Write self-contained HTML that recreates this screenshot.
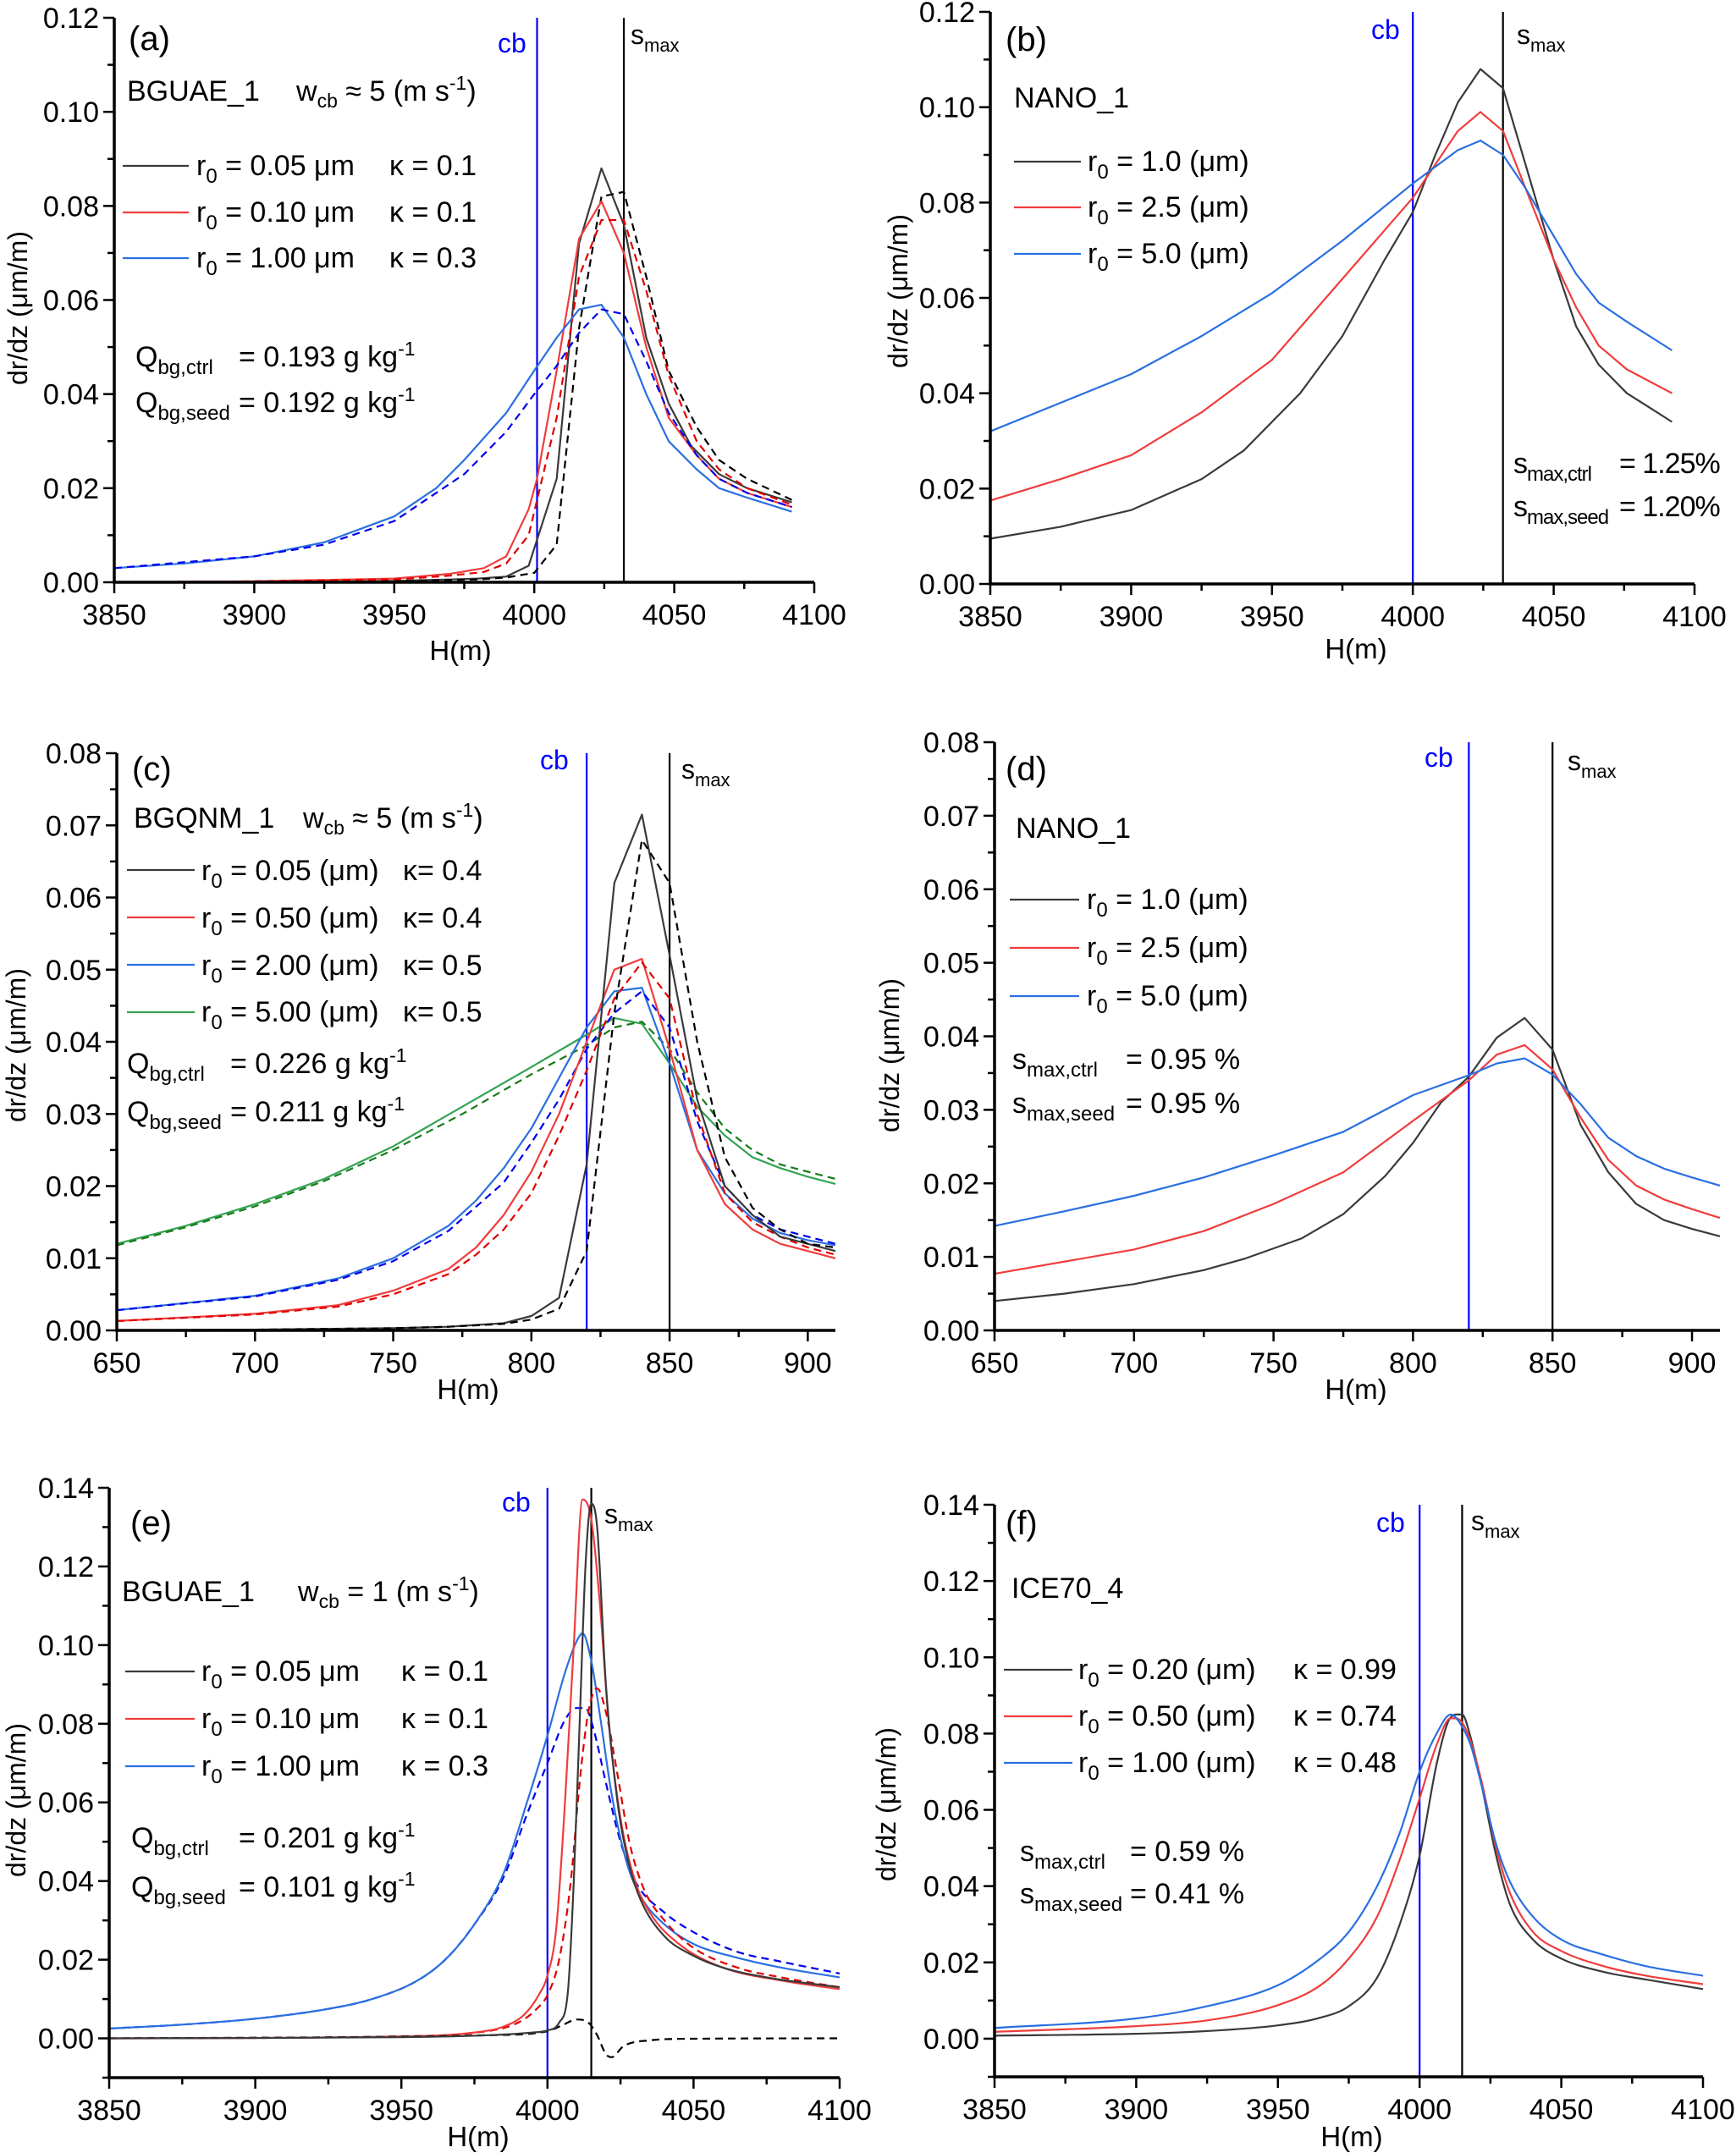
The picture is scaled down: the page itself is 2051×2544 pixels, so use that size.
<!DOCTYPE html>
<html><head><meta charset="utf-8"><style>
body{margin:0;background:#fff}
svg{display:block;font-family:"Liberation Sans",Arial,sans-serif}
text{fill:#000}
</style></head><body>
<svg id="fig" width="2051" height="2544" viewBox="0 0 2051 2544" xmlns="http://www.w3.org/2000/svg">
<g id="marks"></g>
<g font-size="34">
<!-- panel a -->
<text x="152" y="59" font-size="40">(a)</text>
<text x="588" y="62" style="fill:#0000ff" font-size="32">cb</text>
<text x="745" y="52" font-size="32">s<tspan dy="9" font-size="22">max</tspan></text>
<text x="150" y="119">BGUAE_1</text>
<text x="350" y="119">w<tspan dy="8" font-size="23">cb</tspan><tspan dy="-8"> ≈ 5 (m s</tspan><tspan dy="-13" font-size="23">-1</tspan><tspan dy="13">)</tspan></text>
<text x="232" y="207">r<tspan dy="9" font-size="24">0</tspan><tspan dy="-9"> = 0.05 μm</tspan><tspan x="460">κ = 0.1</tspan></text>
<text x="232" y="262">r<tspan dy="9" font-size="24">0</tspan><tspan dy="-9"> = 0.10 μm</tspan><tspan x="460">κ = 0.1</tspan></text>
<text x="232" y="316">r<tspan dy="9" font-size="24">0</tspan><tspan dy="-9"> = 1.00 μm</tspan><tspan x="460">κ = 0.3</tspan></text>
<text x="160" y="433">Q<tspan dy="9" font-size="24">bg,ctrl</tspan><tspan x="282" dy="-9">= 0.193 g kg</tspan><tspan dy="-13" font-size="23">-1</tspan></text>
<text x="160" y="487">Q<tspan dy="9" font-size="24">bg,seed</tspan><tspan x="282" dy="-9">= 0.192 g kg</tspan><tspan dy="-13" font-size="23">-1</tspan></text>
<!-- panel b -->
<text x="1188" y="60" font-size="40">(b)</text>
<text x="1620" y="46" style="fill:#0000ff" font-size="32">cb</text>
<text x="1792" y="52" font-size="32">s<tspan dy="9" font-size="22">max</tspan></text>
<text x="1198" y="127">NANO_1</text>
<text x="1285" y="202">r<tspan dy="9" font-size="24">0</tspan><tspan dy="-9"> = 1.0 (μm)</tspan></text>
<text x="1285" y="256">r<tspan dy="9" font-size="24">0</tspan><tspan dy="-9"> = 2.5 (μm)</tspan></text>
<text x="1285" y="311">r<tspan dy="9" font-size="24">0</tspan><tspan dy="-9"> = 5.0 (μm)</tspan></text>
<text x="1788" y="559" letter-spacing="-1">s<tspan dy="9" font-size="24">max,ctrl</tspan><tspan x="1913" dy="-9">= 1.25%</tspan></text>
<text x="1788" y="610" letter-spacing="-1">s<tspan dy="9" font-size="24">max,seed</tspan><tspan x="1913" dy="-9">= 1.20%</tspan></text>
<!-- panel c -->
<text x="156" y="922" font-size="40">(c)</text>
<text x="638" y="909" style="fill:#0000ff" font-size="32">cb</text>
<text x="805" y="920" font-size="32">s<tspan dy="9" font-size="22">max</tspan></text>
<text x="158" y="978">BGQNM_1</text>
<text x="358" y="978">w<tspan dy="8" font-size="23">cb</tspan><tspan dy="-8"> ≈ 5 (m s</tspan><tspan dy="-13" font-size="23">-1</tspan><tspan dy="13">)</tspan></text>
<text x="238" y="1040">r<tspan dy="9" font-size="24">0</tspan><tspan dy="-9"> = 0.05 (μm)</tspan><tspan x="476">κ= 0.4</tspan></text>
<text x="238" y="1096">r<tspan dy="9" font-size="24">0</tspan><tspan dy="-9"> = 0.50 (μm)</tspan><tspan x="476">κ= 0.4</tspan></text>
<text x="238" y="1152">r<tspan dy="9" font-size="24">0</tspan><tspan dy="-9"> = 2.00 (μm)</tspan><tspan x="476">κ= 0.5</tspan></text>
<text x="238" y="1207">r<tspan dy="9" font-size="24">0</tspan><tspan dy="-9"> = 5.00 (μm)</tspan><tspan x="476">κ= 0.5</tspan></text>
<text x="150" y="1268">Q<tspan dy="9" font-size="24">bg,ctrl</tspan><tspan x="272" dy="-9">= 0.226 g kg</tspan><tspan dy="-13" font-size="23">-1</tspan></text>
<text x="150" y="1325">Q<tspan dy="9" font-size="24">bg,seed</tspan><tspan x="272" dy="-9">= 0.211 g kg</tspan><tspan dy="-13" font-size="23">-1</tspan></text>
<!-- panel d -->
<text x="1188" y="922" font-size="40">(d)</text>
<text x="1683" y="906" style="fill:#0000ff" font-size="32">cb</text>
<text x="1852" y="910" font-size="32">s<tspan dy="9" font-size="22">max</tspan></text>
<text x="1200" y="990">NANO_1</text>
<text x="1284" y="1074">r<tspan dy="9" font-size="24">0</tspan><tspan dy="-9"> = 1.0 (μm)</tspan></text>
<text x="1284" y="1131">r<tspan dy="9" font-size="24">0</tspan><tspan dy="-9"> = 2.5 (μm)</tspan></text>
<text x="1284" y="1188">r<tspan dy="9" font-size="24">0</tspan><tspan dy="-9"> = 5.0 (μm)</tspan></text>
<text x="1196" y="1263">s<tspan dy="9" font-size="24">max,ctrl</tspan><tspan x="1330" dy="-9">= 0.95 %</tspan></text>
<text x="1196" y="1315">s<tspan dy="9" font-size="24">max,seed</tspan><tspan x="1330" dy="-9">= 0.95 %</tspan></text>
<!-- panel e -->
<text x="154" y="1813" font-size="40">(e)</text>
<text x="593" y="1786" style="fill:#0000ff" font-size="32">cb</text>
<text x="714" y="1800" font-size="32">s<tspan dy="9" font-size="22">max</tspan></text>
<text x="144" y="1892">BGUAE_1</text>
<text x="352" y="1892">w<tspan dy="8" font-size="23">cb</tspan><tspan dy="-8"> = 1 (m s</tspan><tspan dy="-13" font-size="23">-1</tspan><tspan dy="13">)</tspan></text>
<text x="238" y="1986">r<tspan dy="9" font-size="24">0</tspan><tspan dy="-9"> = 0.05 μm</tspan><tspan x="474">κ = 0.1</tspan></text>
<text x="238" y="2042">r<tspan dy="9" font-size="24">0</tspan><tspan dy="-9"> = 0.10 μm</tspan><tspan x="474">κ = 0.1</tspan></text>
<text x="238" y="2098">r<tspan dy="9" font-size="24">0</tspan><tspan dy="-9"> = 1.00 μm</tspan><tspan x="474">κ = 0.3</tspan></text>
<text x="155" y="2183">Q<tspan dy="9" font-size="24">bg,ctrl</tspan><tspan x="282" dy="-9">= 0.201 g kg</tspan><tspan dy="-13" font-size="23">-1</tspan></text>
<text x="155" y="2241">Q<tspan dy="9" font-size="24">bg,seed</tspan><tspan x="282" dy="-9">= 0.101 g kg</tspan><tspan dy="-13" font-size="23">-1</tspan></text>
<!-- panel f -->
<text x="1188" y="1813" font-size="40">(f)</text>
<text x="1626" y="1810" style="fill:#0000ff" font-size="32">cb</text>
<text x="1738" y="1808" font-size="32">s<tspan dy="9" font-size="22">max</tspan></text>
<text x="1195" y="1888">ICE70_4</text>
<text x="1274" y="1984">r<tspan dy="9" font-size="24">0</tspan><tspan dy="-9"> = 0.20 (μm)</tspan><tspan x="1528">κ = 0.99</tspan></text>
<text x="1274" y="2039">r<tspan dy="9" font-size="24">0</tspan><tspan dy="-9"> = 0.50 (μm)</tspan><tspan x="1528">κ = 0.74</tspan></text>
<text x="1274" y="2094">r<tspan dy="9" font-size="24">0</tspan><tspan dy="-9"> = 1.00 (μm)</tspan><tspan x="1528">κ = 0.48</tspan></text>
<text x="1205" y="2199">s<tspan dy="9" font-size="24">max,ctrl</tspan><tspan x="1335" dy="-9">= 0.59 %</tspan></text>
<text x="1205" y="2249">s<tspan dy="9" font-size="24">max,seed</tspan><tspan x="1335" dy="-9">= 0.41 %</tspan></text>
<!-- axis titles -->
<text transform="translate(32,364) rotate(-90)" text-anchor="middle" font-size="32">dr/dz (μm/m)</text>
<text transform="translate(1072,344) rotate(-90)" text-anchor="middle" font-size="32">dr/dz (μm/m)</text>
<text transform="translate(30,1235) rotate(-90)" text-anchor="middle" font-size="32">dr/dz (μm/m)</text>
<text transform="translate(1062,1247) rotate(-90)" text-anchor="middle" font-size="32">dr/dz (μm/m)</text>
<text transform="translate(30,2127) rotate(-90)" text-anchor="middle" font-size="32">dr/dz (μm/m)</text>
<text transform="translate(1058,2132) rotate(-90)" text-anchor="middle" font-size="32">dr/dz (μm/m)</text>
<text x="544" y="780" text-anchor="middle" font-size="33">H(m)</text>
<text x="1602" y="778" text-anchor="middle" font-size="33">H(m)</text>
<text x="553" y="1653" text-anchor="middle" font-size="33">H(m)</text>
<text x="1602" y="1653" text-anchor="middle" font-size="33">H(m)</text>
<text x="565" y="2536" text-anchor="middle" font-size="33">H(m)</text>
<text x="1597" y="2536" text-anchor="middle" font-size="33">H(m)</text>
</g>
</svg>
<script>
// ---------- panel (a) data ----------
const aKx=[3850,3900,3950,3970,3980,3990,3998,4008,4016,4024,4032,4040,4048,4056,4066,4076,4092];
const aKy=[0,0,0.0003,0.0006,0.0008,0.0012,0.0035,0.022,0.072,0.088,0.076,0.052,0.038,0.029,0.023,0.020,0.017];
const aKdx=[3850,3900,3950,3980,3990,4000,4008,4016,4024,4032,4040,4048,4058,4066,4076,4092];
const aKdy=[0,0,0.0002,0.0006,0.001,0.002,0.008,0.054,0.082,0.083,0.065,0.045,0.033,0.026,0.022,0.0175];
const aRx=[3850,3900,3950,3970,3982,3990,3998,4001,4008,4016,4024,4032,4040,4048,4058,4066,4076,4092];
const aRy=[0,0.0002,0.0008,0.0018,0.003,0.0055,0.0155,0.022,0.045,0.073,0.081,0.070,0.050,0.035,0.027,0.022,0.019,0.016];
const aRdx=[3850,3900,3950,3970,3982,3990,3998,4008,4016,4024,4032,4040,4048,4058,4066,4076,4092];
const aRdy=[0,0.0002,0.0006,0.0014,0.0022,0.004,0.010,0.035,0.065,0.077,0.077,0.062,0.044,0.030,0.024,0.020,0.0165];
const aBx=[3850,3875,3900,3925,3950,3965,3975,3990,4000,4008,4016,4024,4032,4040,4048,4058,4066,4076,4092];
const aBy=[0.003,0.004,0.0055,0.0085,0.014,0.020,0.026,0.036,0.045,0.052,0.058,0.059,0.052,0.040,0.030,0.024,0.020,0.018,0.015];
const aBdx=[3850,3900,3925,3950,3975,3990,4000,4008,4016,4024,4032,4040,4048,4058,4066,4076,4092];
const aBdy=[0.003,0.0055,0.008,0.013,0.023,0.032,0.040,0.046,0.053,0.058,0.057,0.047,0.036,0.027,0.022,0.019,0.016];
// ---------- panel (b) data ----------
const bKx=[3850,3875,3900,3925,3940,3960,3975,3990,4000,4008,4016,4024,4032,4040,4050,4058,4066,4076,4084,4092];
const bKy=[0.0095,0.012,0.0155,0.022,0.028,0.040,0.052,0.068,0.078,0.090,0.101,0.108,0.104,0.088,0.068,0.054,0.046,0.040,0.037,0.034];
const bRx=[3850,3875,3900,3925,3950,3975,4000,4008,4016,4024,4032,4040,4050,4058,4066,4076,4092];
const bRy=[0.0175,0.022,0.027,0.036,0.047,0.064,0.081,0.088,0.095,0.099,0.095,0.083,0.068,0.058,0.050,0.045,0.040];
const bBx=[3850,3875,3900,3925,3950,3975,4000,4016,4024,4032,4040,4050,4058,4066,4076,4092];
const bBy=[0.032,0.038,0.044,0.052,0.061,0.072,0.084,0.091,0.093,0.090,0.083,0.073,0.065,0.059,0.055,0.049];
// ---------- panel (c) data ----------
const cKx=[650,700,750,770,790,800,810,820,830,840,850,860,870,880,890,900,910];
const cKy=[0,0.0001,0.0003,0.0005,0.001,0.002,0.0045,0.023,0.062,0.0715,0.052,0.032,0.020,0.016,0.013,0.012,0.011];
const cKdx=[650,700,750,770,790,800,810,820,830,840,850,860,870,880,890,900,910];
const cKdy=[0,0.0001,0.0003,0.0005,0.0009,0.0015,0.003,0.011,0.044,0.068,0.062,0.040,0.024,0.017,0.014,0.012,0.0115];
const cRx=[650,700,730,750,770,780,790,800,810,820,830,840,850,860,870,880,890,900,910];
const cRy=[0.0013,0.0023,0.0035,0.0055,0.0085,0.0115,0.016,0.022,0.030,0.040,0.050,0.0515,0.039,0.025,0.0175,0.014,0.012,0.011,0.010];
const cRdx=[650,700,730,750,770,780,790,800,810,820,830,840,850,860,870,880,890,900,910];
const cRdy=[0.0013,0.0022,0.0033,0.005,0.0078,0.0105,0.014,0.019,0.027,0.036,0.046,0.051,0.046,0.030,0.019,0.015,0.013,0.0115,0.0105];
const cBx=[650,700,730,750,770,780,790,800,810,820,830,840,850,860,870,880,890,900,910];
const cBy=[0.0028,0.0048,0.0072,0.010,0.0145,0.018,0.0225,0.028,0.035,0.042,0.047,0.0475,0.037,0.025,0.019,0.0155,0.0135,0.0125,0.0118];
const cBdx=[650,700,730,750,770,790,800,810,820,830,840,850,860,870,880,890,900,910];
const cBdy=[0.0028,0.0047,0.007,0.0096,0.0138,0.0205,0.026,0.032,0.039,0.044,0.047,0.042,0.029,0.020,0.016,0.014,0.013,0.012];
const cGx=[650,675,700,725,750,775,800,820,830,840,850,860,870,880,890,900,910];
const cGy=[0.012,0.0145,0.0175,0.021,0.0255,0.031,0.0365,0.041,0.0433,0.0425,0.037,0.031,0.027,0.024,0.0225,0.0213,0.0203];
const cGdx=[650,675,700,725,750,775,800,820,830,840,850,860,870,880,890,900,910];
const cGdy=[0.0118,0.0143,0.0172,0.0207,0.025,0.030,0.0355,0.0395,0.042,0.0428,0.039,0.033,0.028,0.025,0.023,0.022,0.021];
// ---------- panel (d) data ----------
const dKx=[650,675,700,725,740,760,775,790,800,810,820,830,840,850,860,870,880,890,900,910];
const dKy=[0.004,0.005,0.0063,0.0082,0.0098,0.0125,0.0158,0.021,0.0255,0.031,0.0345,0.0398,0.0425,0.0382,0.028,0.0215,0.0172,0.015,0.0138,0.0128];
const dRx=[650,700,725,750,775,800,820,830,840,850,860,870,880,890,900,910];
const dRy=[0.0077,0.011,0.0135,0.0172,0.0215,0.0285,0.034,0.0375,0.0388,0.0355,0.029,0.0232,0.0197,0.0178,0.0165,0.0153];
const dBx=[650,675,700,725,750,775,790,800,820,830,840,850,860,870,880,890,900,910];
const dBy=[0.0142,0.0162,0.0183,0.0208,0.0238,0.027,0.030,0.032,0.0347,0.0363,0.037,0.0348,0.0308,0.0262,0.0237,0.022,0.0208,0.0197];
// ---------- panel (e) data ----------
const eKx=[3850,3950,3980,3995,4000,4004,4007,4009,4011,4013,4015,4017,4020,4024,4028,4032,4040,4050,4060,4075,4100];
const eKy=[0,0.0003,0.0008,0.0015,0.002,0.004,0.012,0.04,0.08,0.12,0.136,0.13,0.09,0.06,0.044,0.035,0.026,0.021,0.018,0.0155,0.013];
const eKdx=[3850,3980,4000,4005,4010,4014,4017,4020,4022,4026,4035,4050,4100];
const eKdy=[0,0.0008,0.0018,0.0033,0.0048,0.004,0.0008,-0.004,-0.0048,-0.002,-0.0005,-0.0001,0];
const eRx=[3850,3950,3975,3985,3992,3997,4000,4003,4006,4009,4012,4015,4018,4021,4025,4030,4035,4045,4060,4080,4100];
const eRy=[0,0.0005,0.0015,0.003,0.006,0.011,0.016,0.028,0.06,0.10,0.137,0.132,0.11,0.08,0.056,0.040,0.032,0.024,0.018,0.0147,0.0125];
const eRdx=[3850,3950,3975,3990,3997,4000,4004,4008,4011,4014,4017,4020,4024,4028,4033,4040,4050,4065,4080,4100];
const eRdy=[0,0.0005,0.0014,0.004,0.008,0.011,0.02,0.04,0.065,0.083,0.089,0.083,0.067,0.050,0.038,0.030,0.023,0.018,0.0155,0.013];
const eBx=[3850,3875,3900,3925,3940,3955,3965,3975,3985,3993,4000,4006,4010,4012,4015,4018,4022,4027,4032,4040,4050,4065,4080,4100];
const eBy=[0.0025,0.0035,0.005,0.0075,0.010,0.0145,0.020,0.029,0.042,0.060,0.077,0.093,0.101,0.103,0.096,0.082,0.062,0.045,0.036,0.029,0.024,0.0205,0.018,0.0155];
const eBdx=[3850,3875,3900,3925,3940,3955,3965,3975,3985,3993,4000,4006,4010,4013,4016,4020,4025,4030,4040,4050,4065,4080,4100];
const eBdy=[0.0025,0.0035,0.005,0.0075,0.010,0.0145,0.020,0.029,0.041,0.057,0.070,0.081,0.084,0.084,0.078,0.065,0.050,0.040,0.032,0.027,0.022,0.0195,0.0165];
// ---------- panel (f) data ----------
const fKx=[3850,3900,3925,3950,3965,3975,3985,3993,4000,4006,4010,4013,4015,4018,4022,4027,4032,4040,4050,4065,4080,4100];
const fKy=[0.0008,0.0013,0.002,0.0035,0.0055,0.0085,0.016,0.030,0.048,0.072,0.083,0.085,0.085,0.079,0.066,0.048,0.035,0.026,0.021,0.0175,0.0155,0.013];
const fRx=[3850,3900,3925,3950,3965,3975,3985,3993,4000,4006,4011,4013,4017,4022,4027,4032,4040,4050,4065,4080,4100];
const fRy=[0.0018,0.0033,0.0048,0.0088,0.014,0.021,0.032,0.047,0.063,0.077,0.084,0.084,0.080,0.067,0.050,0.038,0.028,0.023,0.019,0.0165,0.0143];
const fBx=[3850,3900,3925,3950,3965,3975,3985,3993,4000,4006,4011,4014,4018,4022,4027,4032,4040,4050,4065,4080,4100];
const fBy=[0.0028,0.0053,0.0085,0.014,0.021,0.028,0.040,0.054,0.070,0.080,0.085,0.083,0.077,0.066,0.051,0.041,0.032,0.026,0.022,0.019,0.0165];
// ---------- tick labels ----------
const xTicksH=[3850,3900,3950,4000,4050,4100];
const xTicksL=[650,700,750,800,850,900];
const yTicks12=[0,0.02,0.04,0.06,0.08,0.10,0.12];
const yTicks08=[0,0.01,0.02,0.03,0.04,0.05,0.06,0.07,0.08];
const yTicks14=[0,0.02,0.04,0.06,0.08,0.10,0.12,0.14];

const NS='http://www.w3.org/2000/svg';
const root=document.getElementById('marks');
function mk(tag,attrs){const e=document.createElementNS(NS,tag);for(const k in attrs)e.setAttribute(k,attrs[k]);root.appendChild(e);return e;}

function monoPath(px,py){
 const n=px.length;if(n<3){return 'M'+px.map((x,i)=>x.toFixed(1)+','+py[i].toFixed(1)).join(' L');}
 const d=[],m=[];
 for(let i=0;i<n-1;i++)d.push((py[i+1]-py[i])/(px[i+1]-px[i]));
 m[0]=d[0];m[n-1]=d[n-2];
 for(let i=1;i<n-1;i++){m[i]=(d[i-1]*d[i]<=0)?0:(d[i-1]+d[i])/2;}
 for(let i=0;i<n-1;i++){
  if(d[i]===0){m[i]=0;m[i+1]=0;continue;}
  const a=m[i]/d[i],b=m[i+1]/d[i],s=a*a+b*b;
  if(s>9){const t=3/Math.sqrt(s);m[i]=t*a*d[i];m[i+1]=t*b*d[i];}
 }
 let p='M'+px[0].toFixed(1)+','+py[0].toFixed(1);
 for(let i=0;i<n-1;i++){
  const h=(px[i+1]-px[i])/3;
  p+=' C'+(px[i]+h).toFixed(1)+','+(py[i]+m[i]*h).toFixed(1)+' '+(px[i+1]-h).toFixed(1)+','+(py[i+1]-m[i+1]*h).toFixed(1)+' '+px[i+1].toFixed(1)+','+py[i+1].toFixed(1);
 }
 return p;
}

const KC='#3a3a3a',RC='#f03c3c',BC='#2a6fe0',GC='#33a352';
const panels=[
 {id:'a',smooth:0,x0:135,x1:962,yb:688,yt:21,xmin:3850,xmax:4100,ymin:0,ymax:0.12,xt:xTicksH,xm:25,yt2:yTicks12,ym:0.01,cb:4001,sm:4032,
  series:[[aKx,aKy,KC,0],[aKdx,aKdy,'#000',1],[aRx,aRy,RC,0],[aRdx,aRdy,'#e00000',1],[aBx,aBy,BC,0],[aBdx,aBdy,'#0000ee',1]],
  leg:[[145,223,196,KC],[145,223,251,RC],[145,223,305,BC]]},
 {id:'b',smooth:0,x0:1170,x1:2002,yb:690,yt:14,xmin:3850,xmax:4100,ymin:0,ymax:0.12,xt:xTicksH,xm:25,yt2:yTicks12,ym:0.01,cb:4000,sm:4032,
  series:[[bKx,bKy,KC,0],[bRx,bRy,RC,0],[bBx,bBy,BC,0]],
  leg:[[1198,1277,191,KC],[1198,1277,245,RC],[1198,1277,300,BC]]},
 {id:'c',smooth:0,x0:138,x1:987,yb:1572,yt:890,xmin:650,xmax:910,ymin:0,ymax:0.08,xt:xTicksL,xm:25,yt2:yTicks08,ym:0.005,cb:820,sm:850,
  series:[[cGx,cGy,GC,0],[cGdx,cGdy,'#1a7a1a',1],[cBx,cBy,BC,0],[cBdx,cBdy,'#0000ee',1],[cRx,cRy,RC,0],[cRdx,cRdy,'#e00000',1],[cKx,cKy,KC,0],[cKdx,cKdy,'#000',1]],
  leg:[[150,230,1028,KC],[150,230,1084,RC],[150,230,1140,BC],[150,230,1196,GC]]},
 {id:'d',smooth:0,x0:1175,x1:2032,yb:1572,yt:877,xmin:650,xmax:910,ymin:0,ymax:0.08,xt:xTicksL,xm:25,yt2:yTicks08,ym:0.005,cb:820,sm:850,
  series:[[dKx,dKy,KC,0],[dRx,dRy,RC,0],[dBx,dBy,BC,0]],
  leg:[[1193,1275,1063,KC],[1193,1275,1120,RC],[1193,1275,1177,BC]]},
 {id:'e',smooth:1,x0:129,x1:992,yb:2455,yt:1758,xmin:3850,xmax:4100,ymin:-0.01,ymax:0.14,xt:xTicksH,xm:25,yt2:yTicks14,ym:0.01,cb:4000,sm:4015,
  series:[[eBdx,eBdy,'#0000ee',1],[eBx,eBy,BC,0],[eRdx,eRdy,'#e00000',1],[eRx,eRy,RC,0],[eKdx,eKdy,'#000',1],[eKx,eKy,KC,0]],
  leg:[[148,230,1975,KC],[148,230,2031,RC],[148,230,2087,BC]]},
 {id:'f',smooth:1,x0:1175,x1:2012,yb:2454,yt:1778,xmin:3850,xmax:4100,ymin:-0.01,ymax:0.14,xt:xTicksH,xm:25,yt2:yTicks14,ym:0.01,cb:4000,sm:4015,
  series:[[fKx,fKy,KC,0],[fRx,fRy,RC,0],[fBx,fBy,BC,0]],
  leg:[[1186,1267,1973,KC],[1186,1267,2028,RC],[1186,1267,2083,BC]]}
];

panels.forEach(p=>{
 const X=v=>p.x0+(v-p.xmin)/(p.xmax-p.xmin)*(p.x1-p.x0);
 const Y=v=>p.yb-(v-p.ymin)/(p.ymax-p.ymin)*(p.yb-p.yt);
 let cb=mk('line',{x1:X(p.cb),x2:X(p.cb),y1:p.yt,y2:p.yb,stroke:'#0000ff','stroke-width':2.2});
 
 
 let sm=mk('line',{x1:X(p.sm),x2:X(p.sm),y1:p.yt,y2:p.yb,stroke:'#000','stroke-width':2.2});
 
 
 p.series.forEach((s,i)=>{
  const px=s[0].map(X),py=s[1].map(Y);
  let d;
  if(p.smooth) d=monoPath(px,py);
  else d='M'+px.map((x,j)=>x.toFixed(1)+','+py[j].toFixed(1)).join(' L');
  const attrs={d:d,fill:'none',stroke:s[2],'stroke-width':2.2,'stroke-linejoin':'round'};
  if(s[3]) attrs['stroke-dasharray']='9,6';
  const pl=mk('path',attrs);
  
  
 });
 p.leg.forEach((l,i)=>{
  const ll=mk('line',{x1:l[0],x2:l[1],y1:l[2],y2:l[2],stroke:l[3],'stroke-width':2.2});
  
  
 });
 const ax=mk('path',{d:'M'+p.x0+','+p.yt+' V'+p.yb+' H'+p.x1,fill:'none',stroke:'#000','stroke-width':3.5});
 
 
 for(let v=p.xmin;v<=p.xmax+1e-9;v+=p.xm){
  const major=p.xt.indexOf(v)>=0;
  const t=mk('line',{x1:X(v),x2:X(v),y1:p.yb,y2:p.yb+(major?13:8),stroke:'#000','stroke-width':2.5});
  
  
 }
 p.xt.forEach(v=>{
  const t=mk('text',{x:X(v),y:p.yb+50,'text-anchor':'middle','font-size':34});
  t.textContent=String(v);
  
  
 });
 const nm=Math.round((p.ymax-p.ymin)/p.ym);
 for(let k=0;k<=nm;k++){
  const v=p.ymin+k*p.ym;
  const major=p.yt2.some(t=>Math.abs(t-v)<1e-9);
  const t=mk('line',{x1:p.x0,x2:p.x0-(major?13:8),y1:Y(v),y2:Y(v),stroke:'#000','stroke-width':2.5});
  
  
 }
 p.yt2.forEach(v=>{
  const t=mk('text',{x:p.x0-18,y:Y(v)+12,'text-anchor':'end','font-size':34});
  t.textContent=v.toFixed(2);
  
  
 });
});
</script>
</body></html>
